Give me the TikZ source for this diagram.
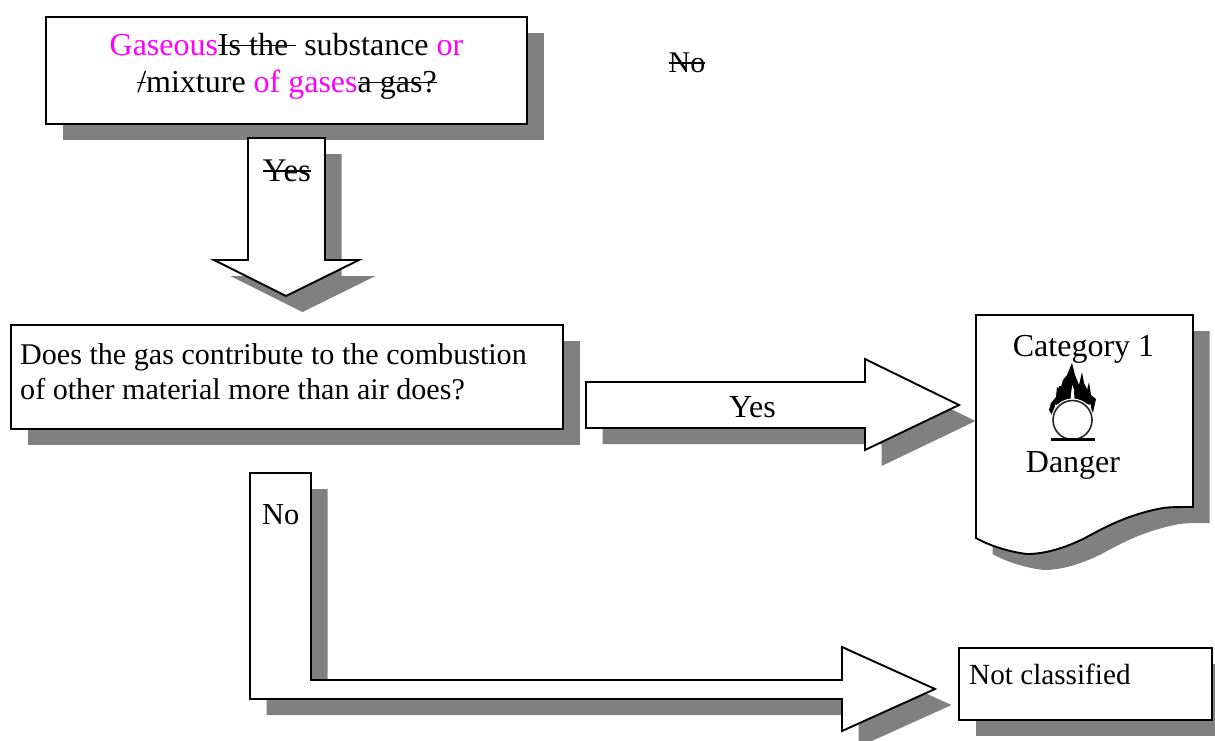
\documentclass[tikz,border=0pt]{standalone}
\usepackage{fontspec}
\setmainfont{Liberation Serif}
\newcommand{\strk}[1]{\setbox0=\hbox{#1}\rlap{\rule[.27em]{\wd0}{1.6pt}}\box0 }
\newcommand{\shadowed}[1]{\fill[shadowfill,shift={(16.5,16)}] #1; \draw[whiteshape] #1;}
\definecolor{shadowc}{HTML}{808080}
\definecolor{pinktext}{HTML}{FF00FF}
\tikzset{
  shadowfill/.style={fill=shadowc},
  whiteshape/.style={draw=black,fill=white,line width=1.9pt,line join=miter},
  label text/.style={inner sep=0pt,anchor=base west,font=\fontsize{30.1}{36.5}\selectfont},
  label mid/.style={inner sep=0pt,anchor=base,font=\fontsize{32}{36.5}\selectfont},
}
\begin{document}
\begin{tikzpicture}[x=1pt,y=-1pt]
\useasboundingbox (0,0) rectangle (1215,740);
\clip (0,0) rectangle (1215,740);
\fill[white] (0,0) rectangle (1215,740);
% box 1
\shadowed{(46,17) rectangle (527,124)}
\node[label mid] (t1a) at (286.5,55) {\textcolor{pinktext}{Gaseous}\strk{Is the }\ substance \textcolor{pinktext}{or}};
\node[label mid] (t1b) at (287,92) {\strk{/}mixture \textcolor{pinktext}{of gases}\strk{a gas?}};
% down arrow
\shadowed{(248,138) -- (325,138) -- (325,260) -- (359,260) -- (286,296) -- (214,260) -- (248,260) -- cycle}
\node[label mid,font=\fontsize{33}{36.5}\selectfont] (t2) at (287,181) {\strk{Yes}};
% box 2
\shadowed{(11,325) rectangle (563,429)}
\node[label text] (t3a) at (20,364) {Does the gas contribute to the combustion};
\node[label text] (t3b) at (20,399) {of other material more than air does?};
% right arrow
\shadowed{(586,382) -- (865,382) -- (865,359) -- (959,405) -- (865,450) -- (865,428) -- (586,428) -- cycle}
\node[label mid] (t4) at (752.5,417) {Yes};
% document
\shadowed{(976,315) -- (1193,315) -- (1193,507) .. controls (1178,507) and (1170,507) .. (1163,508) .. controls (1125,515) and (1100,530) .. (1085,538) .. controls (1065,548) and (1045,554) .. (1027,554) .. controls (1010,552) and (990,546) .. (976,538) -- cycle}
\node[label mid] (t5) at (1083.5,356) {Category 1};
\node[label mid] (t6) at (1073,472) {Danger};
% flame symbol
\fill[black] (1053,417) -- (1049,410) -- (1051,403) -- (1056,397) -- (1057,387) -- (1060,390) -- (1063,380) -- (1067,375) -- (1072,363) -- (1075,375) -- (1079,385) -- (1082,372) -- (1084,383) -- (1087,390) -- (1089,382) -- (1091,395) -- (1096,399) -- (1094,408) -- (1092,417) -- (1091,405) -- (1085,398) -- (1073,396) -- (1061,398) -- (1055,405) -- cycle;
\fill[black] (1056,405) -- (1059,386) -- (1086,386) -- (1090,405) -- (1073,398) -- cycle;
\fill[white] (1070.5,400) -- (1071.5,390) -- (1072.5,385) -- (1074,390) -- (1074.5,400) -- cycle;
\draw[white,fill=white,line width=1pt] (1072.5,420) circle (21);
\draw[black!85,fill=white,line width=1.6pt] (1072.5,420) circle (19.5);
\fill[black] (1051,438) rectangle (1095,440.5);
% L arrow
\shadowed{(250,473) -- (311,473) -- (311,680) -- (842,680) -- (842,647) -- (935,689) -- (842,731) -- (842,699) -- (250,699) -- cycle}
\node[label text,font=\fontsize{30.5}{36.5}\selectfont] (t7) at (262,524) {No};
% not classified
\shadowed{(959,648) rectangle (1212,720)}
\node[label text,font=\fontsize{29.2}{36.5}\selectfont] (t8) at (969,684) {Not classified};
% stray
\node[label mid,font=\fontsize{30}{36.5}\selectfont] (t9) at (687,72) {\strk{No}};
\end{tikzpicture}
\end{document}
